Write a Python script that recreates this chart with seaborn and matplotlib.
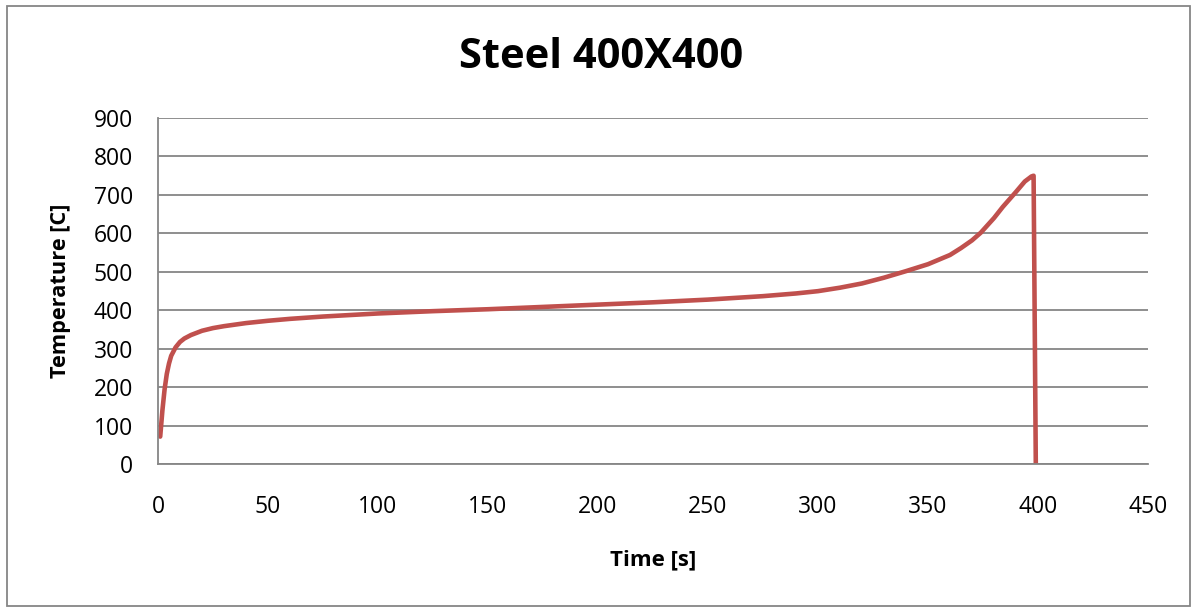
import matplotlib
matplotlib.use("Agg")
import matplotlib.pyplot as plt
import seaborn as sns
import pandas as pd
from matplotlib.patches import Rectangle

# Data
time_s = [1, 2, 3, 4, 5, 6, 8, 10, 12, 15, 20, 25, 30, 40, 50, 60, 75,
          100, 125, 150, 175, 200, 225, 250, 275, 290, 300, 310, 320, 330,
          340, 350, 360, 365, 370, 374, 380, 384, 390, 394, 397, 398, 399]
temperature_c = [72, 140, 195, 235, 262, 282, 304, 318, 327, 336, 347, 354,
                 359, 367, 373, 378, 384, 392, 398, 403, 409, 415, 421, 428,
                 437, 444, 450, 459, 470, 485, 502, 520, 544, 562, 582, 602,
                 640, 669, 708, 735, 748, 750, 0]
x_ticks = [0, 50, 100, 150, 200, 250, 300, 350, 400, 450]
y_ticks = [0, 100, 200, 300, 400, 500, 600, 700, 800, 900]
title = "Steel 400X400"
x_label = "Time [s]"
y_label = "Temperature [C]"

df = pd.DataFrame({"t": time_s, "T": temperature_c})

sns.set_style("white")
plt.rcParams["font.family"] = ["Open Sans", "DejaVu Sans"]
plt.rcParams["text.color"] = "black"
plt.rcParams["axes.labelcolor"] = "black"

fig = plt.figure(figsize=(11.95, 6.08), dpi=100)
ax = fig.add_axes([158 / 1195, 1 - 464.3 / 608, (1148 - 158) / 1195, (464.3 - 118) / 608])

sns.lineplot(data=df, x="t", y="T", ax=ax, color="#C0504D", linewidth=3.3,
             sort=False, estimator=None)

ax.set_xlim(0, 450)
ax.set_ylim(0, 900)
ax.set_xticks(x_ticks)
ax.set_yticks(y_ticks)
ax.tick_params(axis="both", length=0, labelsize=16.5, colors="black")
ax.tick_params(axis="y", pad=18)
ax.tick_params(axis="x", pad=22)
ax.yaxis.grid(True, color="#868686", linewidth=1.3)
ax.xaxis.grid(False)
for side in ["top", "right"]:
    ax.spines[side].set_visible(False)
for side in ["left", "bottom"]:
    ax.spines[side].set_color("#868686")
    ax.spines[side].set_linewidth(1.3)

ax.set_xlabel(x_label, fontsize=16, fontweight="bold", labelpad=22, color="black")
ax.set_ylabel(y_label, fontsize=15.7, fontweight="bold", labelpad=16, color="black")

fig.text(601 / 1195, 1 - 57 / 608, title, ha="center", va="center",
         fontsize=30, fontweight="bold", color="black")

fig.patches.append(Rectangle((7 / 1195, 1 - 606 / 608), (1190 - 7) / 1195, (606 - 6) / 608,
                             transform=fig.transFigure, fill=False,
                             edgecolor="#868686", linewidth=1.3))

fig.savefig("out.png", dpi=100)
